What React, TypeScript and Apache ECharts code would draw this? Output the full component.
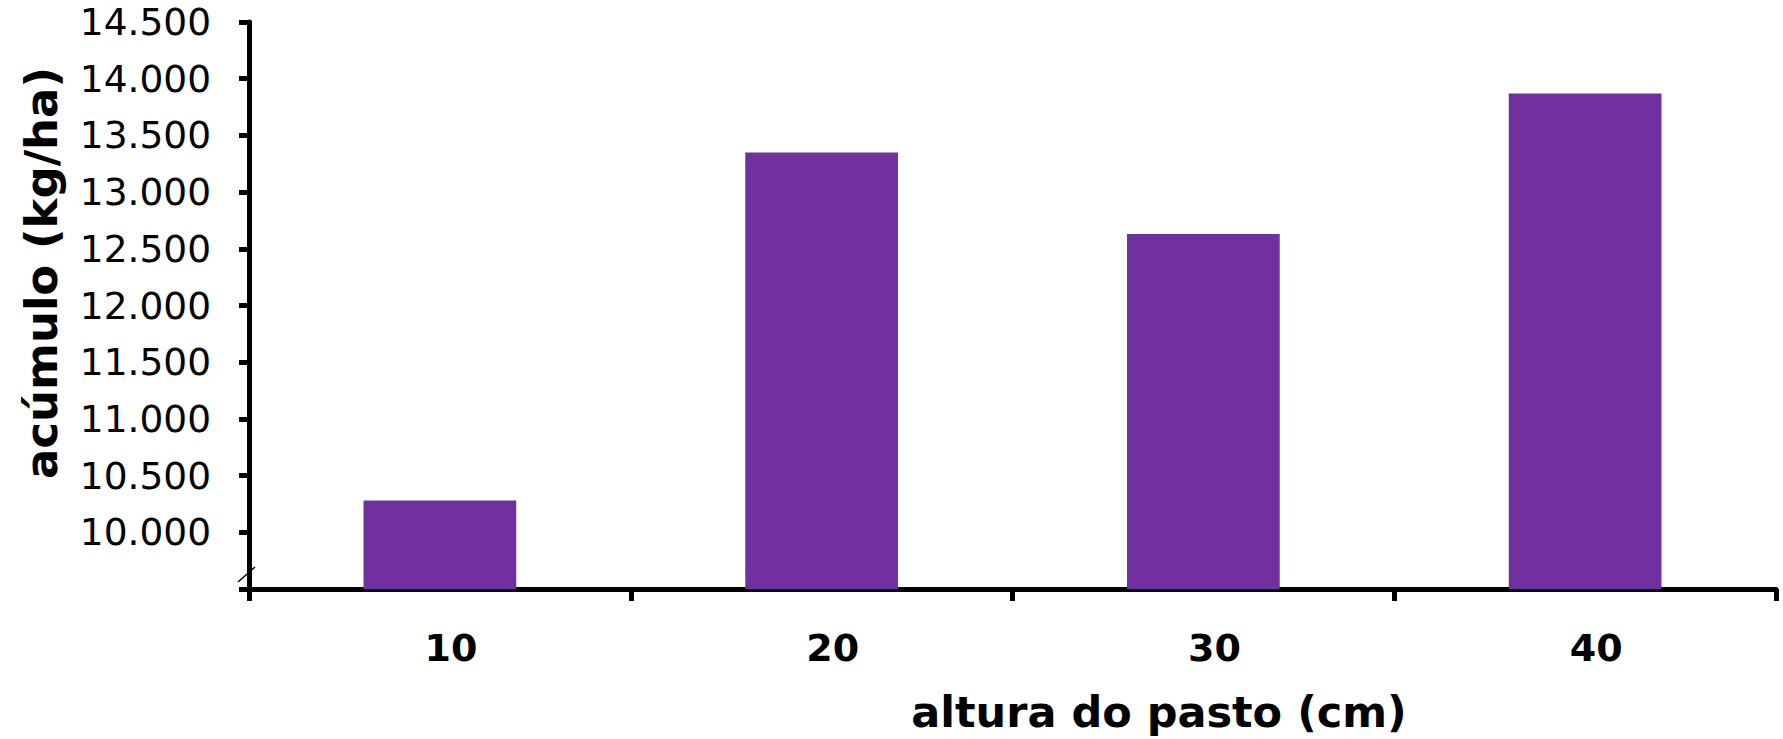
import React, { useEffect, useRef } from "react";
import * as echarts from "echarts";

// Pasture height classes (cm) and accumulated forage (kg/ha)
const alturas: string[] = ["10", "20", "30", "40"];
const acumulo: number[] = [10280, 13350, 12630, 13870];

// Value axis range (broken axis starting at 9.500)
const yMin = 9500;
const yMax = 14500;
const yStep = 500;

const xTitle = "altura do pasto (cm)";
const yTitle = "acúmulo (kg/ha)";

const FONT = "'DejaVu Sans', Verdana, sans-serif";

// Portuguese thousands separator: 14500 -> "14.500"
function formatPt(v: number): string {
  const thousands = Math.floor(v / 1000);
  const rest = String(v % 1000).padStart(3, "0");
  return `${thousands}.${rest}`;
}

export default function App() {
  const ref = useRef<HTMLDivElement>(null);

  useEffect(() => {
    if (!ref.current) return;
    const chart = echarts.init(ref.current, undefined, { renderer: "svg" });

    chart.setOption({
      animation: false,
      backgroundColor: "#ffffff",
      grid: { left: 249, right: 7, top: 22, bottom: 150, containLabel: false },
      xAxis: {
        type: "category",
        data: alturas,
        axisLine: { show: true, lineStyle: { color: "#000", width: 5 } },
        axisTick: {
          show: true,
          alignWithLabel: false,
          interval: 0,
          length: 12,
          lineStyle: { color: "#000", width: 5 },
        },
        axisLabel: {
          color: "#000",
          fontFamily: FONT,
          fontSize: 38,
          fontWeight: "bold",
          margin: 40,
          padding: [0, 0, 0, 22],
        },
        splitLine: { show: false },
      },
      yAxis: {
        type: "value",
        min: yMin,
        max: yMax,
        interval: yStep,
        axisLine: { show: true, lineStyle: { color: "#000", width: 5 } },
        axisTick: { show: true, length: 10, lineStyle: { color: "#000", width: 5 } },
        axisLabel: {
          color: "#000",
          fontFamily: FONT,
          fontSize: 37.5,
          margin: 38,
          formatter: (v: number) => (v === yMin ? "" : formatPt(v)),
        },
        splitLine: { show: false },
      },
      series: [
        {
          type: "bar",
          data: acumulo,
          barWidth: "40%",
          itemStyle: { color: "#7030A0" },
        },
      ],
      graphic: [
        // axis break mark near the origin
        {
          type: "line",
          shape: { x1: 238, y1: 582, x2: 255, y2: 567 },
          style: { stroke: "#000", lineWidth: 1.5 },
          z: 100,
        },
        {
          type: "text",
          x: 1159,
          y: 712,
          style: {
            text: xTitle,
            fontFamily: FONT,
            fontSize: 43,
            fontWeight: "bold",
            fill: "#000",
            align: "center",
            verticalAlign: "middle",
          },
        },
        {
          type: "text",
          x: 41,
          y: 273,
          rotation: Math.PI / 2,
          style: {
            text: yTitle,
            fontFamily: FONT,
            fontSize: 45,
            fontWeight: "bold",
            fill: "#000",
            align: "center",
            verticalAlign: "middle",
          },
        },
      ],
    });

    return () => chart.dispose();
  }, []);

  return (
    <div
      ref={ref}
      style={{ position: "fixed", left: 0, top: 0, width: 1783, height: 739 }}
    />
  );
}
